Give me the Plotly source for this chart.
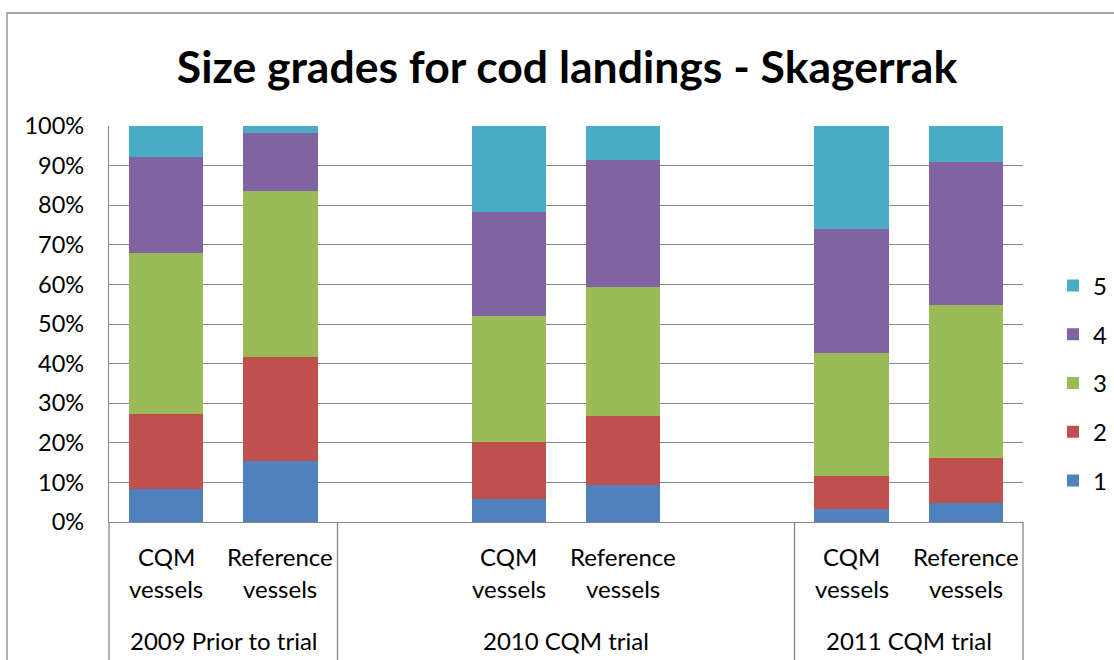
import plotly.graph_objects as go

# ---------------- data ----------------
groups = ["2009 Prior to trial", "2010 CQM trial", "2011 CQM trial"]
group_slots = [2, 4, 2]            # category slots each group occupies on the axis
vessel_line1 = ["CQM", "Reference"]
vessel_line2 = ["vessels", "vessels"]

grades = ["1", "2", "3", "4", "5"]
# order of bars: 2009 CQM, 2009 Ref, 2010 CQM, 2010 Ref, 2011 CQM, 2011 Ref  (percent)
grade1 = [8.3, 15.4, 5.7, 9.3, 3.3, 4.7]
grade2 = [18.9, 26.2, 14.6, 17.4, 8.2, 11.4]
grade3 = [40.8, 42.0, 31.8, 32.7, 31.3, 38.7]
grade4 = [24.2, 14.6, 26.3, 32.0, 31.1, 36.0]
grade5 = [7.8, 1.8, 21.6, 8.6, 26.1, 9.2]
series = [grade1, grade2, grade3, grade4, grade5]
colors = ["#4F81BD", "#C0504D", "#9BBB59", "#8064A2", "#4BACC6"]

# ---------------- positions derived from group structure ----------------
bar_pos, bar_line1, bar_line2, group_centers, dividers = [], [], [], [], [-0.5]
start = 0
for g, slots in zip(groups, group_slots):
    first = start + (slots - len(vessel_line1)) / 2
    for i in range(len(vessel_line1)):
        bar_pos.append(first + i)
        bar_line1.append(vessel_line1[i])
        bar_line2.append(vessel_line2[i])
    group_centers.append(start + (slots - 1) / 2)
    start += slots
    dividers.append(start - 0.5)
xmin, xmax = -0.5, start - 0.5

FONT = "Lato"
GRID = "#878787"

fig = go.Figure()
n = len(grades)
for k, (name, vals, col) in enumerate(zip(grades, series, colors)):
    fig.add_trace(go.Bar(
        x=bar_pos, y=vals, name=name, marker=dict(color=col, line=dict(width=0)),
        width=0.65, legendgroup=name, legendrank=n - k,
    ))

annotations = []
for p, l1, l2 in zip(bar_pos, bar_line1, bar_line2):
    annotations.append(dict(x=p, y=-0.088, xref="x", yref="paper", text=l1, showarrow=False,
                            yanchor="middle", font=dict(family=FONT, size=24, color="#000")))
    annotations.append(dict(x=p, y=-0.169, xref="x", yref="paper", text=l2, showarrow=False,
                            yanchor="middle", font=dict(family=FONT, size=24, color="#000")))
for c, g in zip(group_centers, groups):
    annotations.append(dict(x=c, y=-0.298, xref="x", yref="paper", text=g, showarrow=False,
                            yanchor="middle", font=dict(family=FONT, size=24, color="#000")))

shapes = []
for d in dividers:
    xp = (d - xmin) / (xmax - xmin)
    shapes.append(dict(type="line", xref="paper", yref="paper", x0=xp, x1=xp, y0=0, y1=-0.45,
                       line=dict(color=GRID, width=1.3)))
# outer chart frame
shapes.append(dict(type="rect", xref="paper", yref="paper", x0=-0.1116, x1=1.2, y0=1.2854, y1=-0.6,
                   line=dict(color=GRID, width=1.3), fillcolor="rgba(0,0,0,0)", layer="below"))

fig.update_layout(
    width=1114, height=660,
    margin=dict(l=109, r=91, t=126, b=138, autoexpand=False),
    paper_bgcolor="white", plot_bgcolor="white",
    barmode="stack",
    title=dict(text="<b>Size grades for cod landings - Skagerrak</b>", x=567 / 1114, xanchor="center",
               y=1 - 67 / 660, yanchor="middle", yref="container",
               font=dict(family=FONT, size=44.5, color="#000")),
    xaxis=dict(range=[xmin, xmax], showticklabels=False, showgrid=False, zeroline=False,
               showline=True, linecolor=GRID, linewidth=1.3, ticks=""),
    yaxis=dict(range=[0, 100], dtick=10, ticksuffix="%", showgrid=True, gridcolor=GRID, gridwidth=1.3,
               zeroline=False, showline=True, linecolor=GRID, linewidth=1.3, ticks="",
               ticklabelstandoff=19,
               tickfont=dict(family=FONT, size=23.5, color="#000")),
    legend=dict(x=(1053 - 109) / 914, xanchor="left", y=(522 - 383) / 396, yanchor="middle",
                traceorder="grouped", tracegroupgap=14.5,
                font=dict(family=FONT, size=24, color="#000"), bgcolor="rgba(0,0,0,0)"),
    annotations=annotations, shapes=shapes,
    showlegend=True,
)

fig.write_html("out.html", config={"displayModeBar": False},
               post_script="document.body.style.margin='0';")
